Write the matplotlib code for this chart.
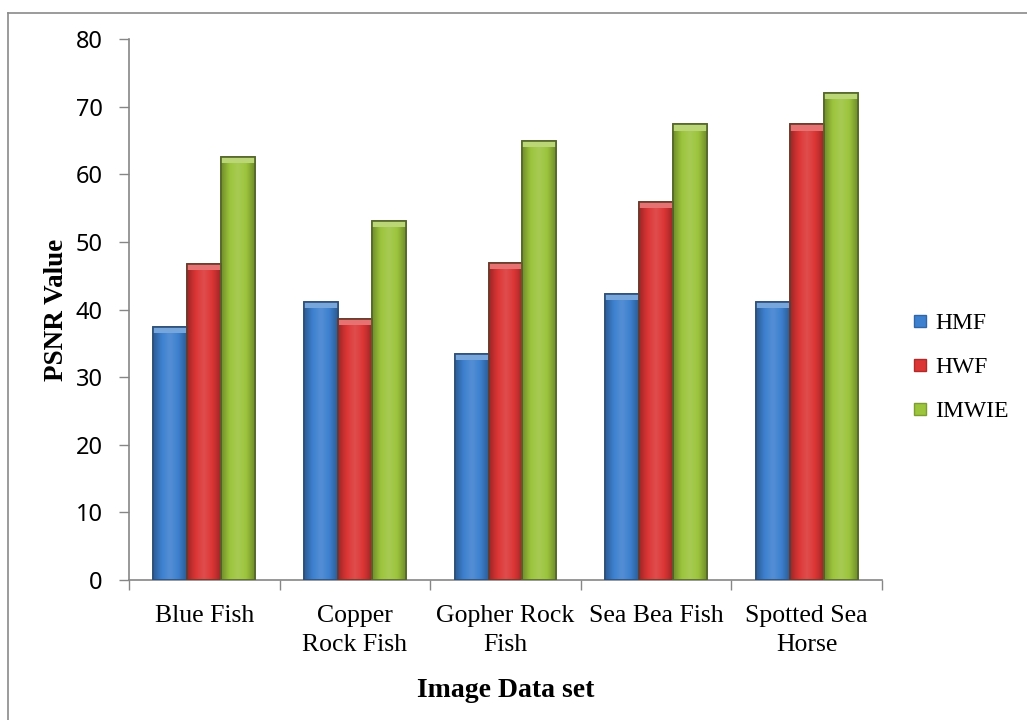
import numpy as np
import matplotlib.pyplot as plt
from matplotlib.colors import LinearSegmentedColormap, to_rgb
from matplotlib.lines import Line2D

categories = ["Blue Fish", "Copper\nRock Fish", "Gopher Rock\nFish", "Sea Bea Fish", "Spotted Sea\nHorse"]
series = ["HMF", "HWF", "IMWIE"]
hmf = [37.5, 41.2, 33.5, 42.3, 41.2]
hwf = [46.7, 38.6, 46.9, 56.0, 67.4]
imwie = [62.6, 53.1, 65.0, 67.4, 72.1]

colors = {"HMF": "#3d80cf", "HWF": "#dc3535", "IMWIE": "#9cc43c"}
edges = {"HMF": "#2d4f78", "HWF": "#6a3a2a", "IMWIE": "#55662a"}

serif = "Liberation Serif"
sans = "Noto Sans"


def shade(c, f):
    r = np.array(to_rgb(c))
    if f >= 1:
        return tuple(r + (1 - r) * (f - 1))
    return tuple(r * f)


def glossy_bar(ax, x, h, w, color, edge):
    bar = ax.bar(x, h, w, color=color, edgecolor=edge, linewidth=1.2, zorder=3)[0]
    # horizontal gradient: darker at the sides, lighter in the middle
    cmap = LinearSegmentedColormap.from_list(
        "g", [shade(color, 0.72), shade(color, 1.0), shade(color, 1.12),
              shade(color, 1.0), shade(color, 0.72)])
    grad = np.linspace(0, 1, 64).reshape(1, -1)
    im = ax.imshow(grad, cmap=cmap, aspect="auto", zorder=3.5,
                   extent=(x - w / 2, x + w / 2, 0, h), interpolation="bicubic")
    im.set_clip_path(bar)
    # light bevel at the top of the bar
    ax.bar(x, 0.9, w, bottom=h - 0.9, color=shade(color, 1.3), linewidth=0, zorder=3.6)
    ax.bar(x, h, w, fill=False, edgecolor=edge, linewidth=1.2, zorder=3.8)
    return bar


fig = plt.figure(figsize=(10.27, 7.2), dpi=100)
ax = fig.add_axes([0.1256, 0.1944, 0.7332, 0.751])

x = np.arange(len(categories))
w = 0.225
for i, (name, vals) in enumerate(zip(series, [hmf, hwf, imwie])):
    for xi, v in zip(x, vals):
        glossy_bar(ax, xi + (i - 1) * w, v, w, colors[name], edges[name])

ax.set_xlim(-0.5, len(categories) - 0.5)
ax.set_ylim(0, 80)
ax.set_yticks(range(0, 81, 10))
ax.set_xticks(x)
ax.set_xticklabels(categories, fontfamily=serif, fontsize=18.5, linespacing=1.4)
ax.set_xticks(np.arange(-0.5, len(categories), 1), minor=True)
ax.tick_params(axis="x", which="major", length=0, pad=18)
ax.tick_params(axis="x", which="minor", length=7, color="#868686", width=1)
ax.tick_params(axis="y", length=7, color="#868686", width=1, pad=12, labelsize=17)
for lab in ax.get_yticklabels():
    lab.set_fontfamily(sans)

for s in ["top", "right"]:
    ax.spines[s].set_visible(False)
for s in ["left", "bottom"]:
    ax.spines[s].set_color("#868686")
    ax.spines[s].set_linewidth(1.2)

ax.set_ylabel("PSNR Value", fontfamily=serif, fontsize=19.5, fontweight="bold", labelpad=5)
ax.set_xlabel("Image Data set", fontfamily=serif, fontsize=20, fontweight="bold", labelpad=16)

handles = [Line2D([], [], marker="s", linestyle="none", markersize=8,
                  markerfacecolor=colors[n], markeredgecolor=shade(colors[n], 0.8))
           for n in series]
fig.legend(handles, series, loc="center left", bbox_to_anchor=(0.868, 0.49),
           frameon=False, prop={"family": serif, "size": 17},
           handlelength=0.6, handletextpad=0.35, labelspacing=0.95)

# frame lines along the top and left edge of the figure
fig.add_artist(Line2D([0.008, 1.0], [0.982, 0.982], color="#8a8a8a", lw=1.2))
fig.add_artist(Line2D([0.008, 0.008], [0.0, 0.982], color="#8a8a8a", lw=1.2))

fig.savefig("out.png", dpi=100)
